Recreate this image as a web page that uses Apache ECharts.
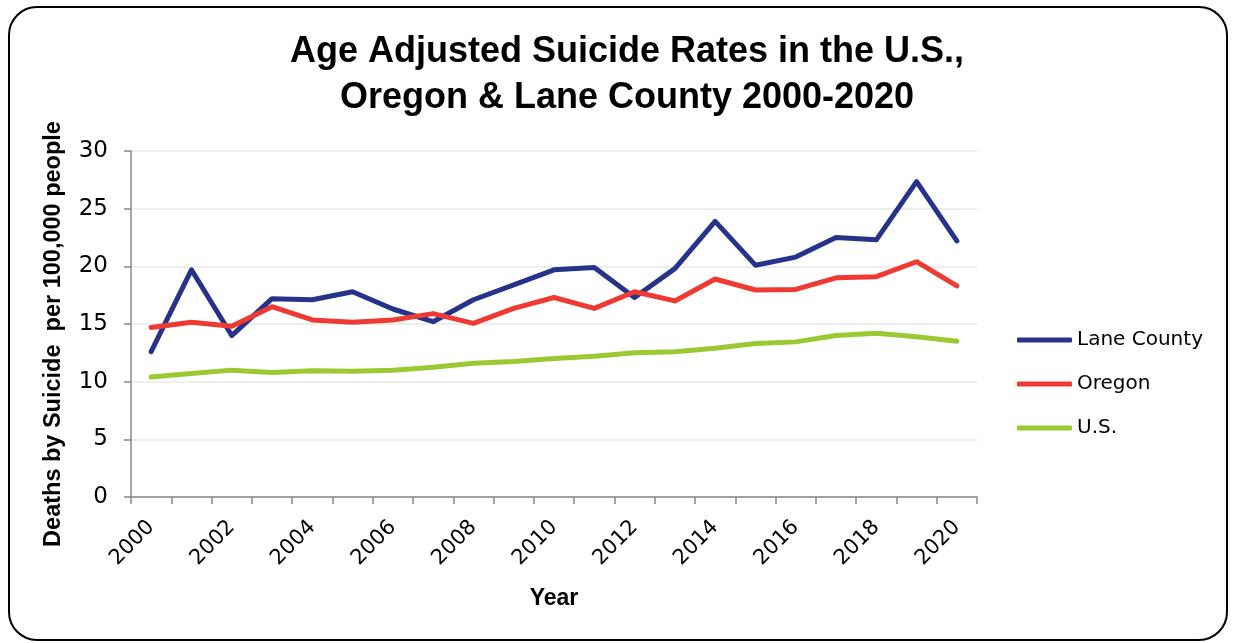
<!DOCTYPE html>
<html>
<head>
<meta charset="utf-8">
<script src="https://cdn.jsdelivr.net/npm/echarts@6/dist/echarts.min.js"></script>
<style>
  html, body { margin: 0; padding: 0; background: #ffffff; }
  #chart { width: 1235px; height: 643px; }
</style>
</head>
<body>
<div id="chart"></div>
<script>
// Age adjusted suicide rates, deaths per 100,000 people
const years = ['2000','2001','2002','2003','2004','2005','2006','2007','2008','2009','2010',
               '2011','2012','2013','2014','2015','2016','2017','2018','2019','2020'];
const laneCounty = [12.6, 19.7, 14.0, 17.2, 17.1, 17.8, 16.3, 15.2, 17.1, 18.4, 19.7,
                    19.9, 17.3, 19.8, 23.9, 20.1, 20.8, 22.5, 22.3, 27.35, 22.2];
const oregon     = [14.7, 15.15, 14.8, 16.5, 15.35, 15.15, 15.35, 15.9, 15.05, 16.35, 17.3,
                    16.35, 17.8, 17.0, 18.9, 17.95, 18.0, 19.0, 19.1, 20.4, 18.3];
const us         = [10.4, 10.7, 11.0, 10.8, 10.95, 10.9, 11.0, 11.25, 11.6, 11.75, 12.0,
                    12.2, 12.5, 12.6, 12.9, 13.3, 13.45, 14.0, 14.2, 13.9, 13.5];

const titleText = 'Age Adjusted Suicide Rates in the U.S.,\nOregon & Lane County 2000-2020';
const yAxisName = 'Deaths by Suicide  per 100,000 people';
const xAxisName = 'Year';

const textFont = 'DejaVu Sans';
const boldFont = 'Liberation Sans';

const chart = echarts.init(document.getElementById('chart'), null, { renderer: 'canvas' });

function lineSeries(name, data, color) {
  return {
    name: name,
    type: 'line',
    data: data,
    symbol: 'none',
    lineStyle: { width: 5, color: color, cap: 'round', join: 'round' },
    itemStyle: { color: color }
  };
}

chart.setOption({
  backgroundColor: '#ffffff',
  animation: false,
  title: {
    text: titleText,
    left: 622,
    textAlign: 'center',
    top: 24,
    textStyle: {
      fontFamily: boldFont,
      fontWeight: 'bold',
      fontSize: 36,
      lineHeight: 46,
      color: '#000000'
    }
  },
  graphic: [{
    type: 'rect',
    shape: { x: 9, y: 7, width: 1218, height: 633, r: 28 },
    style: { fill: 'none', stroke: '#000000', lineWidth: 2 },
    silent: true
  }],
  legend: {
    orient: 'vertical',
    left: 1012,
    top: 325,
    itemWidth: 55,
    itemHeight: 5,
    itemGap: 24,
    icon: 'roundRect',
    textStyle: { fontFamily: textFont, fontSize: 20, color: '#000000', padding: [0, 0, 0, 0] },
    data: ['Lane County', 'Oregon', 'U.S.']
  },
  grid: { left: 131, right: 258, top: 151, bottom: 146, containLabel: false },
  xAxis: {
    type: 'category',
    data: years,
    boundaryGap: true,
    name: xAxisName,
    nameLocation: 'middle',
    nameGap: 90,
    nameTextStyle: { fontFamily: boldFont, fontWeight: 'bold', fontSize: 23, color: '#000000' },
    axisLine: { lineStyle: { color: '#888888', width: 1.5 } },
    axisTick: { show: true, interval: 0, alignWithLabel: false, length: 7, lineStyle: { color: '#888888', width: 1.5 } },
    axisLabel: {
      interval: 1,
      rotate: 45,
      margin: 27,
      fontFamily: textFont,
      fontSize: 21,
      color: '#000000'
    },
    splitLine: { show: false }
  },
  yAxis: {
    type: 'value',
    min: 0,
    max: 30,
    interval: 5,
    name: yAxisName,
    nameLocation: 'middle',
    nameRotate: 90,
    nameGap: 65,
    nameTextStyle: { fontFamily: boldFont, fontWeight: 'bold', fontSize: 23.5, color: '#000000', padding: [0, 0, 0, -20] },
    axisLine: { show: true, lineStyle: { color: '#888888', width: 1.5 } },
    axisTick: { show: true, length: 7, lineStyle: { color: '#888888', width: 1.5 } },
    axisLabel: { fontFamily: textFont, fontSize: 23, color: '#000000', margin: 23 },
    splitLine: { show: true, lineStyle: { color: '#eeeeee', width: 2 } }
  },
  series: [
    lineSeries('Lane County', laneCounty, '#27338b'),
    lineSeries('Oregon', oregon, '#ee3a33'),
    lineSeries('U.S.', us, '#9bc931')
  ]
});
</script>
</body>
</html>
